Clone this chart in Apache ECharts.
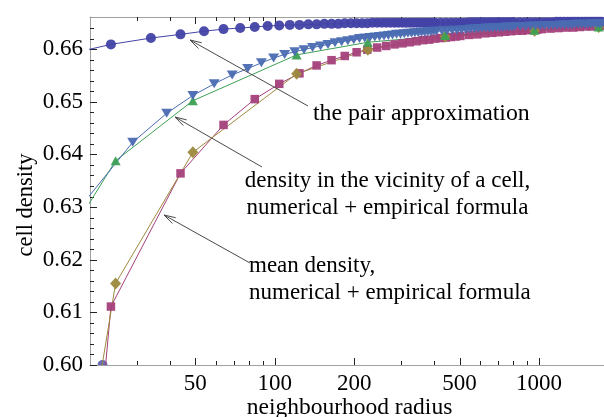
<!DOCTYPE html>
<html><head><meta charset="utf-8">
<script src="https://cdn.jsdelivr.net/npm/echarts@6/dist/echarts.min.js"></script>
<style>html,body{margin:0;padding:0;background:#fff}#c{width:604px;height:417px}</style>
</head><body><div id="c"></div>
<script>
// ---- axis ticks / ranges ----
const xMajorTicks = [50, 100, 200, 500, 1000];
const xMinorTicks = [30, 40, 60, 70, 80, 90, 300, 400, 600, 700, 800, 900];
const yTicks = [0.60, 0.61, 0.62, 0.63, 0.64, 0.65, 0.66];
const yMinorTicks = [0.602,0.604,0.606,0.608,0.612,0.614,0.616,0.618,0.622,0.624,0.626,0.628,0.632,0.634,0.636,0.638,
  0.642,0.644,0.646,0.648,0.652,0.654,0.656,0.658,0.662,0.664];
const xRange = [20, 1760];
const yRange = [0.60, 0.6661];

// ---- the pair approximation (circles) ----
const pairRadius = [14,24,34,44,54,64,74,84,94,104,114,124,134,144,154,164,174,184,194,204,214,224,234,244,254,264,274,284,294,304,314,324,334,344,354,364,374,384,394,404,
  424,444,464,484,504,524,544,564,584,604,624,644,664,684,704,724,744,764,784,804,
  844,884,924,964,1004,1044,1084,1124,1164,1204,1244,1284,1324,1364,1404,1444,1484,1524,1564,1604,1644,1684,1724,1764];
const pairDensity = [0.6582,0.6609,0.6621,0.6628,0.6634,0.6638,0.6640,0.6642,0.6644,0.6645,0.6646,0.6646,0.6647,0.6647,0.6648,0.6648,0.6648,0.6649,0.6649,0.6649,0.6649,0.6649,0.6650,0.6650,0.6650,0.6650,0.6650,0.6650,0.6650,0.6650,0.6650,0.6650,0.6650,0.6650,0.6650,0.6650,0.6650,0.6650,0.6650,0.6650,
  0.6650,0.6650,0.6650,0.6650,0.6650,0.6650,0.6651,0.6651,0.6651,0.6651,0.6651,0.6651,0.6651,0.6651,0.6651,0.6651,0.6651,0.6651,0.6651,0.6651,
  0.6651,0.6651,0.6651,0.6651,0.6651,0.6651,0.6651,0.6651,0.6652,0.6652,0.6652,0.6652,0.6652,0.6652,0.6652,0.6652,0.6652,0.6652,0.6652,0.6652,0.6652,0.6652,0.6652,0.6652];

// ---- mean density, empirical formula (squares) ----
const meanFormulaRadius = [4,24,44,64,84,104,124,144,164,184,204,224,244,264,284,304,324,344,364,384,404,424,444,464,484,504,
  544,584,624,664,704,744,784,824,864,904,944,984,1024,1104,1184,1264,1344,1424,1504,1584,1664,1744,1784];
const meanFormulaDensity = [0.181,0.6111,0.6364,0.6456,0.6505,0.6534,0.6554,0.6569,0.6579,0.6587,0.6594,0.6599,0.6603,0.6606,0.6609,0.6611,0.6613,0.6615,0.6617,0.6618,0.6620,0.6621,0.6622,0.6623,0.6624,0.6625,
  0.6627,0.6628,0.6630,0.6631,0.6632,0.6633,0.6634,0.6635,0.6635,0.6636,0.6637,0.6637,0.6638,0.6639,0.6640,0.6641,0.6641,0.6642,0.6643,0.6643,0.6644,0.6644,0.6644];

// ---- mean density, numerical (diamonds) ----
const numRadius = [9,25,49,121,225,441,961,1681];
const meanNumDensity = [0.4803,0.6155,0.6404,0.6553,0.6599,0.6624,0.6635,0.6642];

// ---- density in the vicinity, numerical (up triangles) ----
const vicinityNumDensity = [0.6028,0.6388,0.6502,0.6589,0.6613,0.6626,0.6636,0.6642];

// ---- density in the vicinity, empirical formula (down triangles) ----
const vicinityFormulaRadius = [19,29,39,49,59,69,79,89,99,109,119,129,139,149,159,169,179,189,199,209,219,229,239,249,259,269,279,289,299,309,319,329,339,349,359,369,379,389,399,409,
  429,449,469,489,509,529,549,569,589,609,629,649,669,689,709,729,749,769,789,809,
  849,889,929,969,1009,1049,1089,1129,1169,1209,1249,1289,1329,1369,1409,1449,1489,1529,1569,1609,1649,1689,1729,1769];
const vicinityFormulaDensity = [0.6309,0.6423,0.6478,0.6512,0.6534,0.6551,0.6563,0.6574,0.6583,0.6590,0.6595,0.6599,0.6603,0.6606,0.6609,0.6612,0.6614,0.6616,0.6618,0.6620,0.6621,0.6622,0.6623,0.6624,0.6625,0.6626,0.6627,0.6628,0.6628,0.6629,0.6630,0.6630,0.6631,0.6631,0.6632,0.6632,0.6633,0.6633,0.6634,0.6634,
  0.6635,0.6635,0.6636,0.6636,0.6637,0.6637,0.6638,0.6638,0.6639,0.6639,0.6640,0.6640,0.6640,0.6641,0.6641,0.6641,0.6642,0.6642,0.6642,0.6643,
  0.6643,0.6643,0.6644,0.6644,0.6644,0.6645,0.6645,0.6645,0.6645,0.6646,0.6646,0.6646,0.6646,0.6647,0.6647,0.6647,0.6647,0.6647,0.6648,0.6648,0.6648,0.6648,0.6648,0.6648];

// marker sitting on the lower edge of the frame
const edgeMarkRadius = [22.3];
const edgeMarkDensity = [0.600];

const FONT = 'Liberation Serif';
const lg = Math.log10;
const pts = (rs, vs) => rs.map((r, i) => [lg(r), vs[i]]);
const xMin = lg(xRange[0]), xMax = lg(xRange[1]);

const C = {pair:'#4242a6', mean:'#a4417b', meanNum:'#9c8a3e', vicNum:'#3da055', vic:'#4a6cb2'};
const TICK = '#222';

function xAxisDef(pos, labels) {
  return {
    type: 'value', position: pos, min: xMin, max: xMax,
    axisLine: {show: true, onZero: false, lineStyle: {color: '#a0a0a0', width: 1}},
    axisTick: {show: false},
    axisLabel: {show: labels, customValues: xMajorTicks.map(lg), margin: 7, color: '#000', fontFamily: FONT, fontSize: 23,
      formatter: v => String(Math.round(Math.pow(10, v)))},
    splitLine: {show: false}
  };
}

function lineSeries(name, data, color, symbol, size, rotate) {
  return {
    name, type: 'line', data, xAxisIndex: 0, yAxisIndex: 0,
    symbol, symbolSize: size, symbolRotate: rotate || 0, showSymbol: true, showAllSymbol: true,
    lineStyle: {color, width: 1}, itemStyle: {color, opacity: 0.95}, clip: true, silent: true
  };
}

// frame ticks drawn through the axis scales: [x, y, kind] kind 0 x-major,1 x-minor,2 y-major,3 y-minor
const tickData = [].concat(
  xMajorTicks.map(v => [lg(v), yRange[0], 0]),
  xMinorTicks.map(v => [lg(v), yRange[0], 1]),
  yTicks.map(v => [xMin, v, 2]),
  yMinorTicks.map(v => [xMin, v, 3])
);
function renderTick(params, api) {
  const cs = params.coordSys;
  const kind = api.value(2);
  const p = api.coord([api.value(0), api.value(1)]);
  const st = {stroke: TICK, lineWidth: 1};
  const len = (kind === 0 || kind === 2) ? 7 : 4;
  if (kind < 2) {
    const x = Math.round(p[0]) + 0.5;
    const yb = cs.y + cs.height, yt = cs.y;
    return {type: 'group', children: [
      {type: 'line', shape: {x1: x, y1: yb, x2: x, y2: yb - len}, style: st},
      {type: 'line', shape: {x1: x, y1: yt, x2: x, y2: yt + len}, style: st}
    ]};
  }
  const y = Math.round(p[1]) + 0.5;
  return {type: 'line', shape: {x1: cs.x, y1: y, x2: cs.x + len, y2: y}, style: st};
}

function arrow(x1, y1, x2, y2) {
  const a = Math.atan2(y1 - y2, x1 - x2), L = 12, s = 0.28;
  return [
    {type: 'polyline', z: 100, shape: {points: [[x1, y1], [x2, y2]]}, style: {stroke: '#4a4a4a', lineWidth: 1, fill: null}},
    {type: 'polyline', z: 100, shape: {points: [[x2 + L * Math.cos(a + s), y2 + L * Math.sin(a + s)], [x2, y2], [x2 + L * Math.cos(a - s), y2 + L * Math.sin(a - s)]]},
      style: {stroke: '#4a4a4a', lineWidth: 1, fill: null}}
  ];
}
function txt(text, x, y, align, size, rot) {
  return {type: 'text', x, y, rotation: rot || 0, z: 100,
    style: {text, fill: '#000', font: (size || 23) + 'px "' + FONT + '"', textAlign: align || 'left', textVerticalAlign: 'middle'}};
}

const chart = echarts.init(document.getElementById('c'), null, {renderer: 'canvas'});
chart.setOption({
  animation: false,
  backgroundColor: '#fff',
  grid: {left: 90, top: 17, right: 0, bottom: 52, outerBoundsMode: 'none'},
  xAxis: [xAxisDef('bottom', true), xAxisDef('top', false)],
  yAxis: {
    type: 'value', min: yRange[0], max: yRange[1], interval: 0.01,
    axisLine: {show: true, onZero: false, lineStyle: {color: '#a0a0a0', width: 1}},
    axisTick: {show: false},
    axisLabel: {showMaxLabel: false, formatter: v => v.toFixed(2), margin: 7, color: '#000', fontFamily: FONT, fontSize: 23},
    splitLine: {show: false}
  },
  series: [
    lineSeries('the pair approximation', pts(pairRadius, pairDensity), C.pair, 'circle', 10),
    lineSeries('mean density, empirical formula', pts(meanFormulaRadius, meanFormulaDensity), C.mean, 'rect', 8.5),
    lineSeries('mean density, numerical', pts(numRadius, meanNumDensity), C.meanNum, 'diamond', [11, 12]),
    lineSeries('density in the vicinity, numerical', pts(numRadius, vicinityNumDensity), C.vicNum, 'triangle', [10, 9]),
    lineSeries('density in the vicinity, empirical formula', pts(vicinityFormulaRadius, vicinityFormulaDensity), C.vic, 'triangle', [11, 9], 180),
    {type: 'scatter', data: pts(edgeMarkRadius, edgeMarkDensity), symbol: 'path://M0,10 A10,10 0 0 1 20,10 Z',
      symbolSize: [10, 5], symbolOffset: [0, -2.5], itemStyle: {color: C.pair}, silent: true, clip: false},
    {type: 'custom', data: tickData, renderItem: renderTick, clip: false, encode: {x: 0, y: 1}}
  ],
  graphic: [
    ...arrow(308, 106, 190, 40),
    ...arrow(262, 167, 175, 117),
    ...arrow(250, 263, 164, 215),
    txt('the pair approximation', 313, 113.5, 'left', 23.8),
    txt('density in the vicinity of a cell,', 387.5, 181, 'center'),
    txt('numerical + empirical formula', 387.5, 208, 'center'),
    txt('mean density,', 249, 266, 'left'),
    txt('numerical + empirical formula', 249, 293, 'left'),
    txt('cell density', 26.5, 205, 'center', 22.5, Math.PI / 2),
    txt('neighbourhood radius', 349.5, 407.5, 'center', 23.5)
  ]
});
</script>
</body></html>
